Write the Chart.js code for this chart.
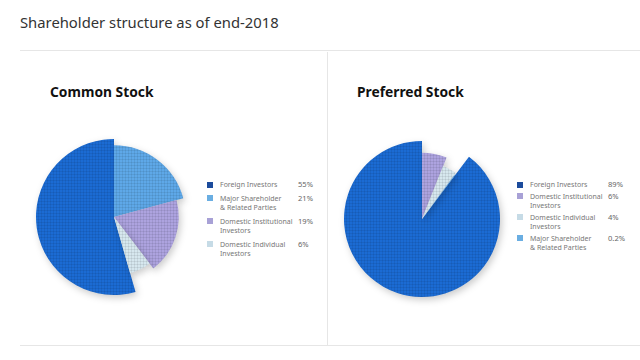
<!DOCTYPE html>
<html lang="en">
<head>
    <meta charset="UTF-8">
    <title>Shareholder structure as of end-2018</title>
    <script src="https://cdn.jsdelivr.net/npm/chart.js"></script>
    <style>
        body {
            margin: 0;
            width: 640px;
            height: 360px;
            background: #fff;
            font-family: "Noto Sans", "Open Sans", sans-serif;
            position: relative;
            overflow: hidden;
        }
        h1 {
            position: absolute;
            left: 20px;
            top: 12px;
            margin: 0;
            font-size: 14.8px;
            font-weight: 400;
            color: #333;
        }
        .rule { position: absolute; background: #e6e6e6; }
        h2 {
            position: absolute;
            margin: 0;
            top: 82px;
            font-size: 13.8px;
            font-weight: 700;
            color: #111;
        }
        .pie { position: absolute; width: 180px; height: 180px; }
        .legend {
            position: absolute;
            top: 180px;
            font-size: 7px;
            color: #777;
            line-height: 9.5px;
        }
        .legend .row { display: flex; position: relative; }
        .legend .box { width: 6px; height: 6px; margin: 1.5px 7px 0 0; flex: none; }
        .legend .name { width: 78px; white-space: nowrap; }
        .legend .pct { color: #666; font-size: 7.6px; }
    </style>
</head>
<body>
    <h1>Shareholder structure as of end-2018</h1>
    <div class="rule" style="left:20px; top:50px; width:620px; height:1px;"></div>
    <div class="rule" style="left:327px; top:52px; width:1px; height:293px;"></div>
    <div class="rule" style="left:20px; top:345px; width:620px; height:1px;"></div>

    <h2 style="left:50px;">Common Stock</h2>
    <h2 style="left:357px;">Preferred Stock</h2>

    <div class="pie" style="left:24px; top:127px;"><canvas id="commonChart"></canvas></div>
    <div class="pie" style="left:332px; top:129px;"><canvas id="preferredChart"></canvas></div>

    <div class="legend" id="commonLegend" style="left:207px;"></div>
    <div class="legend" id="preferredLegend" style="left:517px;"></div>

    <script>
        // Common stock (legend order)
        const commonLabels = ['Foreign Investors', ['Major Shareholder', '& Related Parties'], ['Domestic Institutional', 'Investors'], ['Domestic Individual', 'Investors']];
        const commonValues = [55, 21, 19, 6];

        // Preferred stock (legend order)
        const preferredLabels = ['Foreign Investors', ['Domestic Institutional', 'Investors'], ['Domestic Individual', 'Investors'], ['Major Shareholder', '& Related Parties']];
        const preferredValues = [89, 6, 4, 0.2];

        const sliceColors = {
            'Foreign Investors': '#1b6bd3',
            'Major Shareholder': '#5ea8e8',
            'Domestic Institutional': '#ada3df',
            'Domestic Individual': '#d6e7ee'
        };
        const legendColors = {
            'Foreign Investors': '#1c4c9c',
            'Major Shareholder': '#6aaee2',
            'Domestic Institutional': '#a8a1d6',
            'Domestic Individual': '#c6dbe6'
        };
        // relative slice radius, per group
        const sliceRadius = {
            'Foreign Investors': 1,
            'Major Shareholder': 0.92,
            'Domestic Institutional': 0.83,
            'Domestic Individual': 0.75
        };
        const preferredRadius = {
            'Foreign Investors': 1,
            'Domestic Institutional': 0.85,
            'Domestic Individual': 0.73,
            'Major Shareholder': 0.7
        };

        const key = l => Array.isArray(l) ? l[0] : l;

        // fine grid texture like the original
        function gridPattern(color) {
            const c = document.createElement('canvas');
            c.width = 3; c.height = 3;
            const x = c.getContext('2d');
            x.fillStyle = color;
            x.fillRect(0, 0, 3, 3);
            x.fillStyle = 'rgba(0,0,0,0.07)';
            x.fillRect(2, 0, 1, 3);
            x.fillRect(0, 2, 3, 1);
            return x.createPattern(c, 'repeat');
        }

        const radiusPlugin = {
            id: 'sliceRadius',
            afterDatasetsUpdate(chart) {
                const meta = chart.getDatasetMeta(0);
                const factors = chart.options.plugins.sliceRadius.factors;
                meta.data.forEach((arc, i) => {
                    arc.outerRadius = arc.outerRadius * factors[i];
                });
            },
            beforeDatasetsDraw(chart) {
                const ctx = chart.ctx;
                ctx.save();
                ctx.shadowColor = 'rgba(0,0,0,0.2)';
                ctx.shadowBlur = 7;
                ctx.shadowOffsetX = 2;
                ctx.shadowOffsetY = 3;
            },
            afterDatasetsDraw(chart) {
                chart.ctx.restore();
            }
        };

        function makePie(id, labels, values, radii) {
            const total = values.reduce((a, b) => a + b, 0);
            new Chart(document.getElementById(id), {
                type: 'pie',
                data: {
                    labels: labels.map(key),
                    datasets: [{
                        data: values,
                        backgroundColor: labels.map(l => gridPattern(sliceColors[key(l)])),
                        borderWidth: 0
                    }]
                },
                options: {
                    responsive: true,
                    maintainAspectRatio: false,
                    animation: false,
                    events: [],
                    // first slice (foreign) ends at 12 o'clock
                    rotation: -values[0] / total * 360,
                    layout: { padding: 12 },
                    plugins: {
                        legend: { display: false },
                        tooltip: { enabled: false },
                        sliceRadius: { factors: labels.map(l => radii[key(l)]) }
                    }
                },
                plugins: [radiusPlugin]
            });
        }

        function makeLegend(id, labels, values, gaps) {
            const el = document.getElementById(id);
            labels.forEach((l, i) => {
                const row = document.createElement('div');
                row.className = 'row';
                row.style.marginTop = i === 0 ? '0px' : gaps + 'px';
                const lines = Array.isArray(l) ? l : [l];
                row.innerHTML = `<span class="box" style="background:${legendColors[key(l)]}"></span>` +
                    `<span class="name">${lines.join('<br>')}</span>` +
                    `<span class="pct">${values[i]}%</span>`;
                el.appendChild(row);
            });
        }

        makePie('commonChart', commonLabels, commonValues, sliceRadius);
        makePie('preferredChart', preferredLabels, preferredValues, preferredRadius);
        makeLegend('commonLegend', commonLabels, commonValues, 4);
        makeLegend('preferredLegend', preferredLabels, preferredValues, 2);
    </script>
</body>
</html>
